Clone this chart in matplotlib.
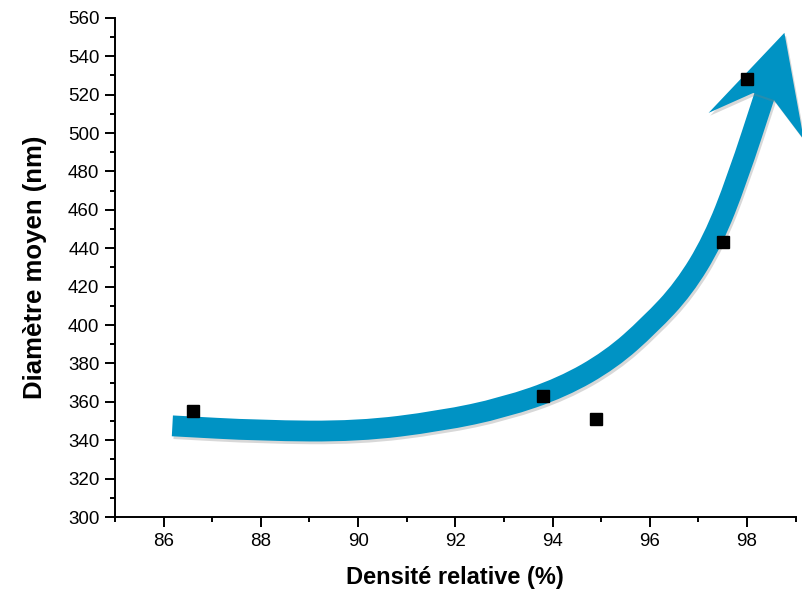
import numpy as np
import matplotlib.pyplot as plt
from matplotlib.path import Path
from matplotlib.patches import PathPatch, Polygon
import matplotlib.patheffects as pe
from matplotlib.ticker import MultipleLocator

plt.rcParams['font.family'] = ['Liberation Sans', 'DejaVu Sans']

# data
densite = [86.6, 93.8, 94.9, 97.5, 98.0]
diametre = [355, 363, 351, 443, 528]

# trend arrow (guide drawn by hand in the original)
arrow_x = [86.18, 88.0, 90.0, 91.7, 93.0, 94.2, 95.2, 96.0, 96.7, 97.3, 97.8, 98.4]
arrow_y = [347.5, 345.0, 344.6, 350.0, 357.0, 367.5, 382.0, 400.0, 419.0, 444.0, 476.0, 522.5]
head_x = [98.77, 97.21, 98.13, 98.55, 99.17]
head_y = [552.2, 510.5, 520.9, 517.3, 496.5]

blue = '#0093c4'

fig = plt.figure(figsize=(8.02, 5.95), dpi=100)
ax = fig.add_axes([0.1434, 0.131, 0.8486, 0.839])

# smooth path through the arrow control points (quadratic B-spline)
pts = np.column_stack([arrow_x, arrow_y])
verts = [pts[0], (pts[0] + pts[1]) / 2]
codes = [Path.MOVETO, Path.LINETO]
for i in range(1, len(pts) - 1):
    verts += [pts[i], (pts[i] + pts[i + 1]) / 2]
    codes += [Path.CURVE3, Path.CURVE3]
verts.append(pts[-1])
codes.append(Path.LINETO)
shaft = PathPatch(Path(verts, codes), facecolor='none', edgecolor=blue,
                  linewidth=15, capstyle='butt', joinstyle='round', zorder=2,
                  path_effects=[pe.SimpleLineShadow(offset=(1.2, -2), shadow_color='gray', alpha=0.3),
                                pe.Normal()])
ax.add_patch(shaft)

head = Polygon(np.column_stack([head_x, head_y]), closed=True, facecolor=blue,
               edgecolor='none', zorder=2, clip_on=False,
               path_effects=[pe.SimplePatchShadow(offset=(1.2, -2), shadow_rgbFace='gray', alpha=0.3),
                             pe.Normal()])
ax.add_patch(head)

ax.plot(densite, diametre, 's', color='black', markersize=8, zorder=3, clip_on=False)

ax.set_xlim(85, 99)
ax.set_ylim(300, 560)
ax.set_xticks([86, 88, 90, 92, 94, 96, 98])
ax.set_yticks(np.arange(300, 561, 20))
ax.xaxis.set_minor_locator(MultipleLocator(1))
ax.yaxis.set_minor_locator(MultipleLocator(10))

for s in ['top', 'right']:
    ax.spines[s].set_visible(False)
for s in ['left', 'bottom']:
    ax.spines[s].set_linewidth(1.4)

ax.tick_params(which='major', direction='out', length=7.2, width=1.4, labelsize=13.5, pad=4)
ax.tick_params(which='minor', direction='out', length=3.6, width=1.4)

ax.set_xlabel('Densité relative (%)', fontsize=17, fontweight='bold', labelpad=12)
ax.set_ylabel('Diamètre moyen (nm)', fontsize=18.5, fontweight='bold', labelpad=15)

fig.savefig('out.png', dpi=100)
